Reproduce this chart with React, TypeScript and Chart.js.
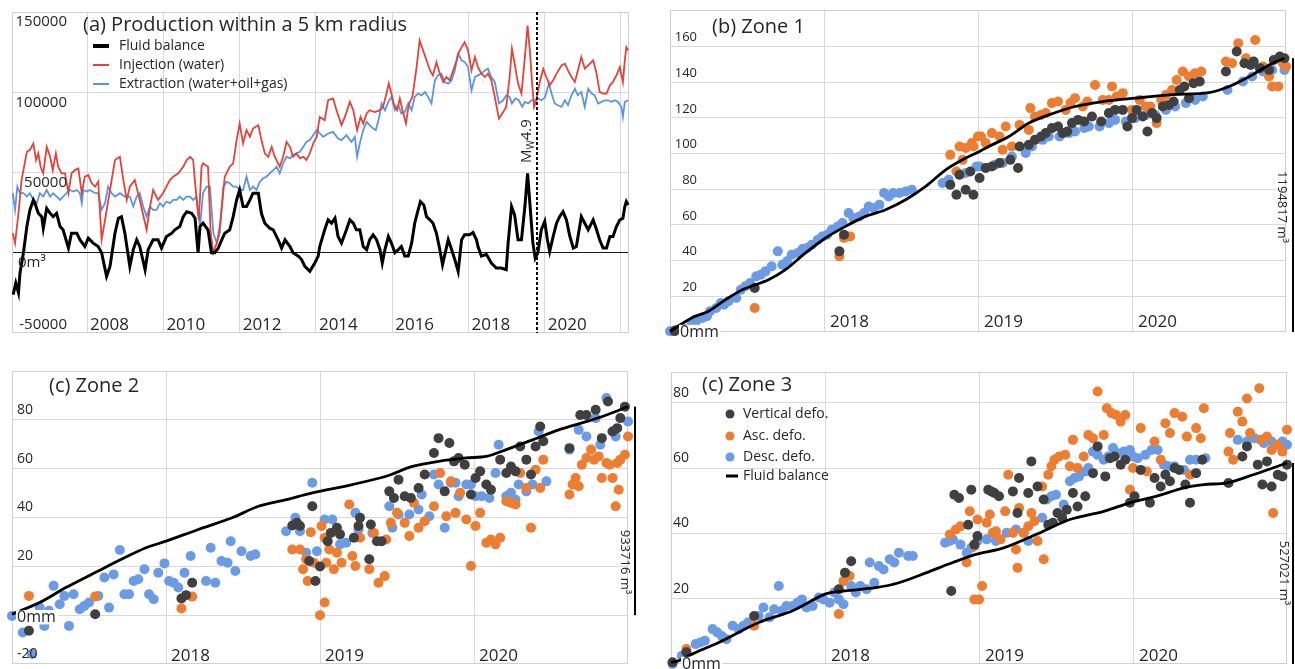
import React, { useEffect, useRef } from "react";
import { Chart, registerables } from "chart.js";

Chart.register(...registerables);

type Pt = [number, number];

const FONT = '"Open Sans", "Noto Sans", "DejaVu Sans", sans-serif';
const TEXT = "#262626";
const GRID = "#d9d9d9";
const FRAME = "#cfcfcf";
const C_FLUID = "#000000";
const C_INJ = "#e2433b";
const C_EXT = "#5b95e0";
const C_VERT = "#404040";
const C_ASC = "#ed7d31";
const C_DESC = "#6c9be6";

// ---------------- Panel (a) ----------------
const aTitle = "(a) Production within a 5 km radius";
const aLegend = ["Fluid balance", "Injection (water)", "Extraction (water+oil+gas)"];
const aXTicks = [2008, 2010, 2012, 2014, 2016, 2018, 2020, 2022];
const aXLabels = ["2008", "2010", "2012", "2014", "2016", "2018", "2020"];
const aYTicks = [150000, 100000, 50000, 0, -50000];
const aYLabels = ["150000", "100000", "50000", "0m³", "-50000"];
const aQuakeYear = 2019.79;

const aFluid: Pt[] = [
  [2006.06, -26100], [2006.13, -18800], [2006.2, -25000], [2006.24, -12600], [2006.33, 0], [2006.42, 16300],
  [2006.5, 26700], [2006.59, 32900], [2006.63, 30900], [2006.72, 24600], [2006.81, 22500], [2006.85, 15300],
  [2006.94, 27700], [2007.03, 24600], [2007.11, 22500], [2007.2, 24600], [2007.29, 16300], [2007.37, 14300],
  [2007.51, 2900], [2007.59, 12200], [2007.73, 12200], [2007.81, 8100], [2007.94, 3900], [2008.03, 9100],
  [2008.16, 6000], [2008.29, 3900], [2008.38, 0], [2008.51, -14700], [2008.6, -8500], [2008.73, 12200],
  [2008.82, 21500], [2008.9, 22500], [2008.99, 12200], [2009.12, -8500], [2009.21, 1900], [2009.3, 8100],
  [2009.38, 3900], [2009.52, -10600], [2009.6, 1900], [2009.73, 8100], [2009.86, 8100], [2009.95, 2900],
  [2010.08, 10100], [2010.22, 12200], [2010.3, 14300], [2010.43, 16300], [2010.52, 22500], [2010.61, 25600],
  [2010.74, 24600], [2010.83, 21500], [2010.91, 0], [2010.96, 16300], [2011.04, 18400], [2011.17, 14300],
  [2011.26, 0], [2011.35, 0], [2011.44, 2900], [2011.53, 8100], [2011.61, 12200], [2011.74, 14300],
  [2011.83, 22500], [2011.92, 32900], [2012.0, 39100], [2012.09, 28800], [2012.18, 28800], [2012.27, 32900],
  [2012.35, 37100], [2012.49, 37100], [2012.57, 24600], [2012.66, 18400], [2012.79, 15300], [2012.88, 14300],
  [2013.01, 8100], [2013.1, 2900], [2013.19, 8100], [2013.32, 3900], [2013.4, 0], [2013.54, -2100],
  [2013.62, -4100], [2013.71, -8500], [2013.84, -11600], [2013.97, -6400], [2014.06, -2100], [2014.1, 3900],
  [2014.23, 14300], [2014.32, 20500], [2014.41, 18400], [2014.5, 21500], [2014.58, 10100], [2014.67, 6000],
  [2014.8, 14300], [2014.89, 20500], [2014.98, 18400], [2015.06, 14300], [2015.15, 14300], [2015.24, 3900],
  [2015.33, 1900], [2015.41, 8100], [2015.5, 11200], [2015.59, 8100], [2015.68, 1900], [2015.74, -6400],
  [2015.81, 1900], [2015.9, 10100], [2015.98, 6000], [2016.07, 0], [2016.16, 1900], [2016.24, 3900],
  [2016.33, -2100], [2016.42, -2100], [2016.51, 6000], [2016.59, 18400], [2016.68, 26700], [2016.74, 31900],
  [2016.83, 29800], [2016.9, 22500], [2016.99, 20500], [2017.07, 18400], [2017.16, 12200], [2017.25, 1900],
  [2017.32, -7500], [2017.41, 1900], [2017.47, 8100], [2017.56, 1900], [2017.64, -4100], [2017.73, -11600],
  [2017.82, 8100], [2017.9, 11200], [2018.03, 11200], [2018.12, 12600], [2018.21, 8100], [2018.25, 3900],
  [2018.34, -2100], [2018.47, -1000], [2018.6, -6400], [2018.73, -9500], [2018.86, -9500], [2018.99, -10600],
  [2019.04, 6000], [2019.13, 28800], [2019.21, 23600], [2019.3, 8100], [2019.39, 8100], [2019.48, 28800],
  [2019.55, 49500], [2019.61, 30900], [2019.69, 6000], [2019.75, -3300], [2019.82, 0], [2019.91, 14300],
  [2020.0, 19500], [2020.07, 8100], [2020.13, 800], [2020.22, 10100], [2020.31, 18400], [2020.39, 22500],
  [2020.48, 25600], [2020.57, 20500], [2020.66, 10100], [2020.75, 2900], [2020.83, 3900], [2020.96, 22500],
  [2021.05, 18400], [2021.14, 14300], [2021.27, 20500], [2021.36, 14300], [2021.44, 8100], [2021.53, 2900],
  [2021.62, 2900], [2021.71, 10100], [2021.79, 10100], [2021.88, 16300], [2021.97, 20500], [2022.05, 21500],
  [2022.1, 28800], [2022.14, 31900], [2022.19, 29800],
];

const aInjection: Pt[] = [
  [2006.05, 12200], [2006.11, 6000], [2006.2, 24600], [2006.28, 45300], [2006.42, 62900], [2006.5, 64000],
  [2006.59, 68100], [2006.66, 57800], [2006.72, 61900], [2006.78, 53600], [2006.85, 49500], [2006.94, 66000],
  [2007.03, 59800], [2007.1, 51500], [2007.18, 61900], [2007.24, 53600], [2007.33, 49500], [2007.42, 49500],
  [2007.51, 37100], [2007.59, 49500], [2007.68, 51500], [2007.77, 52600], [2007.86, 37100], [2007.94, 47400],
  [2008.03, 48400], [2008.12, 43300], [2008.21, 41200], [2008.29, 44300], [2008.38, 8100], [2008.47, 20500],
  [2008.6, 39100], [2008.73, 57800], [2008.86, 59800], [2008.95, 45300], [2009.04, 32900], [2009.12, 41200],
  [2009.25, 45300], [2009.38, 32900], [2009.56, 14300], [2009.65, 28800], [2009.73, 39100], [2009.86, 32900],
  [2009.99, 37100], [2010.08, 41200], [2010.17, 45300], [2010.26, 47400], [2010.39, 49500], [2010.52, 53600],
  [2010.61, 57800], [2010.7, 59800], [2010.78, 57800], [2010.87, 32900], [2010.93, 20500], [2011.0, 53600],
  [2011.04, 55700], [2011.17, 53600], [2011.24, 12200], [2011.31, 0], [2011.4, 6000], [2011.48, 16300],
  [2011.55, 32900], [2011.61, 47400], [2011.74, 53600], [2011.83, 55700], [2011.92, 70200], [2012.0, 80500],
  [2012.09, 68100], [2012.18, 76400], [2012.27, 72200], [2012.35, 77400], [2012.49, 79500], [2012.57, 70200],
  [2012.66, 61900], [2012.75, 59800], [2012.84, 66000], [2012.92, 59800], [2013.05, 53600], [2013.14, 59800],
  [2013.23, 69100], [2013.32, 66000], [2013.4, 59800], [2013.49, 61900], [2013.58, 58800], [2013.67, 59800],
  [2013.75, 57800], [2013.84, 61900], [2013.93, 68100], [2014.02, 72200], [2014.1, 84600], [2014.23, 82600],
  [2014.32, 95000], [2014.45, 96100], [2014.54, 88800], [2014.67, 79500], [2014.76, 84600], [2014.89, 94000],
  [2014.98, 88800], [2015.08, 76400], [2015.17, 84600], [2015.24, 80500], [2015.33, 86800], [2015.41, 88800],
  [2015.54, 87700], [2015.68, 88800], [2015.76, 90900], [2015.85, 99200], [2015.91, 105400], [2015.98, 99200],
  [2016.04, 93000], [2016.13, 88800], [2016.2, 96100], [2016.27, 88800], [2016.36, 80500], [2016.44, 93000],
  [2016.53, 97100], [2016.64, 115700], [2016.72, 132300], [2016.81, 126100], [2016.9, 119900], [2016.99, 113600],
  [2017.07, 110500], [2017.16, 118800], [2017.25, 111600], [2017.34, 106400], [2017.42, 109500], [2017.51, 107400],
  [2017.6, 113600], [2017.69, 119900], [2017.73, 124000], [2017.82, 128100], [2017.9, 131200], [2017.99, 126100],
  [2018.08, 113600], [2018.17, 121900], [2018.25, 115700], [2018.34, 111600], [2018.43, 109500], [2018.51, 111600],
  [2018.6, 107400], [2018.69, 97100], [2018.8, 83600], [2018.91, 87700], [2018.99, 90900], [2019.08, 109500],
  [2019.14, 127100], [2019.21, 117800], [2019.3, 105400], [2019.39, 99200], [2019.48, 121900], [2019.55, 141600],
  [2019.61, 126100], [2019.67, 105400], [2019.72, 90900], [2019.78, 95000], [2019.87, 106400], [2019.96, 114700],
  [2020.04, 109500], [2020.13, 104300], [2020.22, 107400], [2020.31, 111600], [2020.44, 116700], [2020.53, 117800],
  [2020.61, 113600], [2020.7, 109500], [2020.79, 106400], [2020.87, 113600], [2020.96, 121900], [2021.05, 114700],
  [2021.14, 116700], [2021.27, 119900], [2021.36, 111600], [2021.44, 100200], [2021.53, 99200], [2021.62, 99200],
  [2021.71, 104300], [2021.79, 106400], [2021.88, 110500], [2021.97, 115700], [2022.05, 106400], [2022.1, 119900],
  [2022.14, 128100], [2022.19, 126100],
];

const aExtraction: Pt[] = [
  [2006.05, 37100], [2006.11, 26700], [2006.17, 41200], [2006.24, 37100], [2006.33, 37100], [2006.42, 35000],
  [2006.5, 37100], [2006.59, 32900], [2006.68, 30900], [2006.76, 37100], [2006.85, 35000], [2006.94, 39100],
  [2007.03, 35000], [2007.11, 37100], [2007.2, 35000], [2007.29, 32900], [2007.37, 35000], [2007.46, 37100],
  [2007.55, 39100], [2007.64, 38100], [2007.73, 39100], [2007.81, 37100], [2007.86, 30900], [2007.9, 39100],
  [2007.99, 38100], [2008.07, 39100], [2008.21, 37100], [2008.29, 37100], [2008.38, 26700], [2008.47, 30900],
  [2008.55, 41200], [2008.64, 37100], [2008.73, 35000], [2008.86, 37100], [2008.99, 35000], [2009.12, 35000],
  [2009.21, 28800], [2009.3, 35000], [2009.38, 37100], [2009.47, 28800], [2009.56, 22500], [2009.65, 28800],
  [2009.73, 26700], [2009.82, 26700], [2009.91, 30900], [2009.99, 28800], [2010.08, 31900], [2010.17, 30900],
  [2010.26, 32900], [2010.35, 32900], [2010.43, 35000], [2010.52, 32900], [2010.61, 35000], [2010.7, 35000],
  [2010.78, 32900], [2010.87, 35000], [2010.96, 16300], [2011.04, 37100], [2011.13, 41200], [2011.22, 41200],
  [2011.31, 12200], [2011.4, 6000], [2011.48, 12200], [2011.57, 41200], [2011.66, 44300], [2011.74, 43300],
  [2011.83, 41200], [2011.92, 41200], [2012.0, 39100], [2012.09, 39100], [2012.18, 47400], [2012.27, 39100],
  [2012.35, 41200], [2012.44, 39100], [2012.53, 44300], [2012.62, 46400], [2012.7, 47400], [2012.79, 49500],
  [2012.88, 51500], [2012.97, 53600], [2013.05, 49500], [2013.14, 55700], [2013.23, 59800], [2013.32, 58800],
  [2013.4, 60900], [2013.49, 61900], [2013.58, 62900], [2013.67, 66000], [2013.75, 69100], [2013.84, 70200],
  [2013.93, 73300], [2014.02, 76400], [2014.19, 72200], [2014.32, 74300], [2014.45, 75300], [2014.58, 71200],
  [2014.67, 70200], [2014.8, 73300], [2014.93, 69100], [2015.02, 72200], [2015.08, 59800], [2015.15, 68100],
  [2015.24, 76400], [2015.33, 81500], [2015.41, 79500], [2015.5, 77400], [2015.57, 76400], [2015.66, 84600],
  [2015.72, 93000], [2015.81, 88800], [2015.9, 94000], [2015.98, 97100], [2016.07, 88800], [2016.16, 91900],
  [2016.24, 86800], [2016.33, 87700], [2016.42, 93000], [2016.51, 88800], [2016.59, 97100], [2016.68, 99200],
  [2016.77, 98100], [2016.86, 100200], [2016.94, 97100], [2017.03, 93000], [2017.12, 107400], [2017.2, 110500],
  [2017.29, 111600], [2017.38, 106400], [2017.47, 105400], [2017.56, 107400], [2017.64, 113600], [2017.73, 124000],
  [2017.82, 119900], [2017.9, 118800], [2017.99, 115700], [2018.08, 101200], [2018.17, 109500], [2018.25, 110500],
  [2018.34, 111600], [2018.43, 113600], [2018.51, 114700], [2018.6, 109500], [2018.69, 106400], [2018.8, 93000],
  [2018.91, 95000], [2018.99, 98100], [2019.08, 97100], [2019.14, 93000], [2019.23, 96100], [2019.32, 95000],
  [2019.41, 90900], [2019.48, 94000], [2019.57, 93000], [2019.65, 95000], [2019.74, 95000], [2019.83, 96100],
  [2019.91, 95000], [2020.0, 96600], [2020.11, 105400], [2020.18, 99200], [2020.26, 93000], [2020.35, 91900],
  [2020.44, 90900], [2020.53, 95000], [2020.61, 91900], [2020.7, 98100], [2020.79, 102200], [2020.87, 98100],
  [2020.96, 100200], [2021.05, 90900], [2021.14, 102200], [2021.23, 99200], [2021.31, 98100], [2021.4, 93000],
  [2021.49, 94000], [2021.58, 95000], [2021.66, 95000], [2021.75, 94000], [2021.84, 95000], [2021.92, 94000],
  [2022.01, 90900], [2022.05, 84600], [2022.1, 94000], [2022.19, 95000],
];

// ---------------- Zone panels (shared) ----------------
const zoneXTicks = [2018, 2019, 2020];
const zoneXLabels = ["2018", "2019", "2020"];
const zoneLegend = ["Vertical defo.", "Asc. defo.", "Desc. defo.", "Fluid balance"];

// ---------------- Panel (b) Zone 1 ----------------
const bTitle = "(b) Zone 1";
const bYTicks = [20, 40, 60, 80, 100, 120, 140, 160];
const bYLabels = ["20", "40", "60", "80", "100", "120", "140", "160"];
const bVolume = "1194817 m³";

const bDesc: Pt[] = [
  [2017.0, 0.4], [2017.04, 1.3], [2017.08, 2.3], [2017.14, 4.1], [2017.17, 6.0], [2017.21, 7.9], [2017.24, 8.8],
  [2017.26, 11.6], [2017.3, 13.5], [2017.33, 16.3], [2017.35, 15.3], [2017.38, 17.2], [2017.43, 19.1],
  [2017.46, 23.7], [2017.49, 25.6], [2017.52, 27.5], [2017.56, 31.2], [2017.59, 32.1], [2017.62, 34.0],
  [2017.66, 36.8], [2017.7, 45.2], [2017.73, 37.7], [2017.76, 39.6], [2017.79, 43.3], [2017.83, 44.3],
  [2017.86, 46.5], [2017.89, 47.1], [2017.92, 48.9], [2017.96, 51.7], [2017.99, 53.6], [2018.02, 54.5],
  [2018.05, 57.3], [2018.09, 59.2], [2018.12, 61.1], [2018.16, 66.7], [2018.19, 63.9], [2018.23, 64.8],
  [2018.26, 66.7], [2018.29, 70.4], [2018.32, 69.5], [2018.36, 71.3], [2018.39, 77.9], [2018.42, 76.0],
  [2018.45, 77.9], [2018.49, 77.9], [2018.53, 78.8], [2018.57, 79.7], [2018.77, 83.5], [2018.81, 85.3],
  [2018.88, 88.1], [2018.92, 89.1], [2018.99, 92.8], [2019.01, 92.8], [2019.05, 91.9], [2019.11, 93.7],
  [2019.16, 94.7], [2019.22, 98.4], [2019.31, 100.3], [2019.35, 104.0], [2019.42, 107.7], [2019.46, 109.6],
  [2019.53, 109.6], [2019.59, 111.5], [2019.63, 112.4], [2019.69, 114.3], [2019.72, 115.2], [2019.79, 115.2],
  [2019.85, 117.1], [2019.89, 118.9], [2019.96, 118.0], [2020.02, 119.9], [2020.09, 121.7], [2020.15, 121.7],
  [2020.22, 124.5], [2020.28, 126.4], [2020.35, 128.3], [2020.41, 130.1], [2020.46, 132.0], [2020.62, 135.7],
  [2020.72, 140.4], [2020.78, 143.2], [2020.85, 146.0], [2020.91, 146.9], [2020.99, 146.9],
];

const bAsc: Pt[] = [
  [2017.55, 13.5], [2018.1, 42.4], [2018.13, 52.7], [2018.17, 53.6], [2018.82, 99.3], [2018.86, 90.0],
  [2018.88, 104.0], [2018.9, 96.5], [2018.92, 103.1], [2018.96, 105.9], [2018.97, 104.0], [2019.0, 109.6],
  [2019.02, 109.6], [2019.05, 105.9], [2019.09, 111.5], [2019.14, 109.6], [2019.16, 102.1], [2019.18, 115.2],
  [2019.22, 104.0], [2019.27, 116.1], [2019.33, 113.3], [2019.34, 125.5], [2019.37, 120.8], [2019.41, 121.7],
  [2019.44, 122.7], [2019.48, 128.3], [2019.52, 129.2], [2019.57, 124.5], [2019.6, 128.3], [2019.63, 131.1],
  [2019.68, 126.4], [2019.71, 129.2], [2019.76, 138.5], [2019.81, 130.1], [2019.85, 130.1], [2019.87, 137.6],
  [2019.9, 132.0], [2019.94, 133.9], [2020.0, 124.5], [2020.05, 130.1], [2020.09, 126.4], [2020.12, 126.4],
  [2020.16, 117.1], [2020.19, 130.1], [2020.22, 132.9], [2020.26, 135.7], [2020.29, 141.3], [2020.33, 146.0],
  [2020.37, 143.2], [2020.41, 145.1], [2020.45, 146.0], [2020.61, 151.6], [2020.65, 150.7], [2020.69, 161.9],
  [2020.74, 153.5], [2020.8, 163.7], [2020.85, 148.8], [2020.89, 143.2], [2020.91, 137.6], [2020.95, 137.6],
  [2020.98, 150.7], [2021.0, 148.8],
];

const bVert: Pt[] = [
  [2017.03, 0.5], [2017.55, 24.7], [2018.1, 45.2], [2018.13, 54.5], [2018.82, 82.5], [2018.86, 76.9],
  [2018.88, 88.1], [2018.92, 79.7], [2018.95, 90.0], [2018.97, 76.9], [2019.01, 86.3], [2019.05, 91.9],
  [2019.09, 92.8], [2019.14, 94.7], [2019.21, 96.5], [2019.26, 91.9], [2019.27, 104.0], [2019.33, 104.9],
  [2019.37, 107.7], [2019.41, 109.6], [2019.44, 111.5], [2019.48, 114.3], [2019.52, 115.2], [2019.55, 111.5],
  [2019.58, 112.4], [2019.61, 117.1], [2019.65, 118.9], [2019.69, 118.0], [2019.74, 120.8], [2019.8, 118.0],
  [2019.85, 122.7], [2019.89, 124.5], [2019.94, 124.5], [2019.97, 115.2], [2020.0, 119.9], [2020.03, 124.5],
  [2020.07, 120.8], [2020.1, 112.4], [2020.13, 122.7], [2020.16, 119.9], [2020.2, 126.4], [2020.24, 127.3],
  [2020.27, 129.2], [2020.31, 135.7], [2020.34, 137.6], [2020.37, 131.1], [2020.4, 139.5], [2020.44, 140.4],
  [2020.61, 146.0], [2020.68, 157.2], [2020.73, 150.7], [2020.77, 149.7], [2020.79, 151.6], [2020.83, 147.9],
  [2020.89, 146.9], [2020.92, 152.5], [2020.96, 154.4], [2020.99, 153.5],
];

const bFluid: Pt[] = [
  [2017.0, 0.4], [2017.14, 7.9], [2017.25, 11.6], [2017.36, 18.1], [2017.47, 23.7], [2017.64, 29.3],
  [2017.75, 34.9], [2017.88, 44.3], [2018.01, 52.7], [2018.14, 59.2], [2018.27, 64.8], [2018.4, 68.5],
  [2018.53, 74.1], [2018.66, 81.6], [2018.79, 90.9], [2018.92, 97.5], [2019.01, 101.2], [2019.07, 104.0],
  [2019.2, 109.6], [2019.33, 117.1], [2019.46, 121.7], [2019.63, 126.4], [2019.81, 129.2], [2020.02, 131.1],
  [2020.24, 132.9], [2020.5, 134.2], [2020.63, 137.6], [2020.78, 144.1], [2020.89, 149.7], [2020.99, 153.5],
];

// ---------------- Panel (c) Zone 2 ----------------
const cTitle = "(c) Zone 2";
const cYTicks = [80, 60, 40, 20];
const cYLabels = ["80", "60", "40", "20"];
const cBottomLabel = "-20";
const cVolume = "933716 m³";

const cDesc: Pt[] = [
  [2017.0, -0.3], [2017.07, -7.1], [2017.13, -15.9], [2017.18, 3.1], [2017.21, -4.4], [2017.24, 1.8],
  [2017.27, 12.0], [2017.31, 4.5], [2017.34, 7.9], [2017.37, -4.4], [2017.4, 8.6], [2017.44, 2.4],
  [2017.47, 3.8], [2017.5, 5.2], [2017.56, 7.9], [2017.6, 15.4], [2017.63, 3.1], [2017.66, 16.7],
  [2017.7, 26.7], [2017.73, 8.6], [2017.76, 8.6], [2017.79, 14.0], [2017.82, 14.7], [2017.86, 18.8],
  [2017.89, 8.6], [2017.92, 6.5], [2017.95, 17.4], [2017.99, 21.2], [2018.02, 14.0], [2018.05, 13.3],
  [2018.08, 11.3], [2018.12, 17.4], [2018.16, 24.2], [2018.26, 14.0], [2018.29, 27.6], [2018.32, 13.3],
  [2018.36, 22.2], [2018.4, 21.5], [2018.42, 30.3], [2018.45, 18.1], [2018.49, 26.2], [2018.55, 24.2],
  [2018.58, 24.9], [2018.78, 34.4], [2018.84, 39.9], [2018.87, 34.4], [2018.91, 25.6], [2018.95, 54.2],
  [2018.98, 26.2], [2019.03, 39.2], [2019.08, 39.2], [2019.13, 29.0], [2019.17, 29.7], [2019.23, 41.9],
  [2019.25, 35.1], [2019.34, 33.7], [2019.45, 44.6], [2019.47, 35.8], [2019.51, 41.2], [2019.58, 41.2],
  [2019.64, 43.3], [2019.66, 49.4], [2019.71, 40.5], [2019.74, 57.6], [2019.77, 53.5], [2019.81, 35.8],
  [2019.85, 54.2], [2019.88, 54.2], [2019.9, 48.7], [2019.95, 53.5], [2019.98, 53.5], [2020.01, 48.7],
  [2020.05, 48.7], [2020.1, 48.0], [2020.14, 58.2], [2020.16, 69.8], [2020.21, 48.7], [2020.24, 50.1],
  [2020.27, 47.3], [2020.29, 53.5], [2020.34, 50.7], [2020.38, 53.5], [2020.42, 75.2], [2020.47, 54.8],
  [2020.62, 67.8], [2020.68, 75.9], [2020.73, 73.2], [2020.79, 80.7], [2020.82, 69.8], [2020.86, 88.9],
  [2020.9, 75.2], [2020.92, 73.2], [2021.0, 79.3],
];

const cAsc: Pt[] = [
  [2017.11, 7.9], [2017.54, 7.6], [2018.1, 2.7], [2018.17, 7.6], [2018.82, 26.9], [2018.87, 26.9],
  [2018.89, 18.8], [2018.91, 22.9], [2018.92, 14.0], [2018.94, 34.0], [2018.96, 21.5], [2019.0, 0],
  [2019.01, 36.5], [2019.03, 5.2], [2019.04, 21.5], [2019.03, 31.7], [2019.06, 26.9], [2019.09, 18.8],
  [2019.11, 25.6], [2019.14, 21.5], [2019.19, 45.3], [2019.21, 24.2], [2019.23, 20.1], [2019.26, 31.7],
  [2019.32, 18.8], [2019.35, 33.7], [2019.38, 13.3], [2019.42, 16.0], [2019.43, 31.0], [2019.46, 37.8],
  [2019.5, 41.9], [2019.55, 37.8], [2019.58, 32.4], [2019.61, 46.0], [2019.64, 35.8], [2019.68, 38.5],
  [2019.74, 44.6], [2019.78, 58.2], [2019.82, 40.5], [2019.85, 54.8], [2019.88, 41.9], [2019.91, 50.1],
  [2019.95, 39.2], [2019.98, 20.1], [2020.01, 36.5], [2020.04, 41.9], [2020.08, 29.7], [2020.11, 31.0],
  [2020.14, 29.0], [2020.17, 31.7], [2020.21, 46.7], [2020.24, 46.0], [2020.27, 45.3], [2020.3, 58.2],
  [2020.34, 52.1], [2020.37, 35.8], [2020.4, 59.6], [2020.43, 52.1], [2020.45, 63.7], [2020.62, 49.4],
  [2020.64, 53.5], [2020.66, 56.2], [2020.68, 52.8], [2020.7, 61.6], [2020.73, 64.4], [2020.76, 67.8],
  [2020.78, 63.7], [2020.81, 65.0], [2020.83, 56.2], [2020.86, 62.3], [2020.88, 61.6], [2020.9, 56.2],
  [2020.92, 44.6], [2020.93, 62.3], [2020.94, 51.4], [2020.95, 63.7], [2020.98, 65.7], [2021.0, 73.2],
];

const cVert: Pt[] = [
  [2017.11, -6.4], [2017.54, 0.4], [2018.1, 6.8], [2018.13, 8.2], [2018.17, 13.3], [2018.82, 36.7],
  [2018.85, 37.8], [2018.87, 36.5], [2018.93, 22.2], [2018.95, 44.6], [2018.97, 14.0], [2019.0, 19.9],
  [2019.05, 30.3], [2019.07, 33.7], [2019.11, 35.8], [2019.13, 33.1], [2019.22, 31.7], [2019.25, 36.5],
  [2019.26, 39.9], [2019.32, 22.9], [2019.33, 37.1], [2019.37, 30.3], [2019.4, 30.3], [2019.45, 50.7],
  [2019.48, 48.0], [2019.51, 55.5], [2019.55, 48.7], [2019.59, 48.0], [2019.64, 52.1], [2019.68, 57.6],
  [2019.74, 66.4], [2019.77, 72.5], [2019.81, 50.7], [2019.84, 70.5], [2019.87, 63.0], [2019.9, 64.4],
  [2019.94, 61.6], [2019.98, 49.4], [2020.01, 56.2], [2020.04, 58.9], [2020.08, 53.5], [2020.11, 51.4],
  [2020.17, 63.7], [2020.21, 58.2], [2020.24, 60.9], [2020.27, 58.9], [2020.3, 69.1], [2020.34, 63.7],
  [2020.37, 57.6], [2020.4, 69.1], [2020.43, 77.3], [2020.45, 71.2], [2020.62, 68.4], [2020.69, 82.0],
  [2020.73, 82.0], [2020.79, 84.1], [2020.83, 72.5], [2020.87, 87.5], [2020.9, 75.2], [2020.93, 76.6],
  [2020.95, 80.7], [2020.98, 85.4],
];

const cFluid: Pt[] = [
  [2017.0, 0.4], [2017.18, 5.2], [2017.35, 11.3], [2017.56, 18.1], [2017.71, 22.9], [2017.87, 27.6],
  [2018.0, 30.3], [2018.21, 35.1], [2018.43, 39.9], [2018.6, 44.6], [2018.78, 47.3], [2018.95, 50.1],
  [2019.21, 53.5], [2019.43, 56.9], [2019.6, 60.9], [2019.77, 63.0], [2019.95, 64.4], [2020.08, 65.0],
  [2020.21, 67.8], [2020.38, 71.8], [2020.55, 75.9], [2020.73, 79.3], [2020.86, 82.0], [2021.0, 85.4],
];

// ---------------- Panel (d) Zone 3 ----------------
const dTitle = "(c) Zone 3";
const dYTicks = [80, 60, 40, 20];
const dYLabels = ["80", "60", "40", "20"];
const dVolume = "527021 m³";

const dDesc: Pt[] = [
  [2017.01, 0], [2017.07, 2.5], [2017.16, 6.1], [2017.19, 6.6], [2017.22, 7.1], [2017.27, 10.7], [2017.3, 9.7],
  [2017.33, 8.6], [2017.36, 7.6], [2017.4, 11.7], [2017.44, 10.7], [2017.47, 11.7], [2017.5, 12.7],
  [2017.57, 14.7], [2017.6, 17.3], [2017.64, 14.3], [2017.67, 16.8], [2017.7, 23.9], [2017.72, 16.3],
  [2017.75, 17.8], [2017.79, 17.8], [2017.82, 18.8], [2017.85, 19.8], [2017.88, 17.3], [2017.92, 17.8],
  [2017.96, 20.4], [2017.99, 19.8], [2018.03, 18.8], [2018.06, 21.9], [2018.09, 19.8], [2018.12, 18.3],
  [2018.17, 23.9], [2018.2, 21.9], [2018.23, 23.9], [2018.27, 22.9], [2018.29, 31.1], [2018.32, 24.9],
  [2018.35, 30.0], [2018.38, 29.0], [2018.42, 32.1], [2018.45, 31.1], [2018.48, 34.1], [2018.54, 33.1],
  [2018.57, 33.1], [2018.78, 37.2], [2018.81, 37.7], [2018.83, 38.2], [2018.88, 36.6], [2018.92, 34.1],
  [2018.95, 35.6], [2018.99, 37.7], [2019.05, 38.2], [2019.11, 37.7], [2019.18, 40.2], [2019.24, 41.2],
  [2019.29, 40.2], [2019.32, 37.7], [2019.41, 44.8], [2019.44, 50.4], [2019.47, 51.4], [2019.5, 51.9],
  [2019.55, 48.9], [2019.59, 56.0], [2019.62, 57.0], [2019.65, 57.5], [2019.69, 59.0], [2019.71, 60.1],
  [2019.74, 65.1], [2019.77, 64.1], [2019.81, 62.6], [2019.84, 63.6], [2019.87, 66.2], [2019.9, 64.6],
  [2019.94, 65.1], [2019.98, 65.6], [2020.0, 63.6], [2020.03, 63.1], [2020.08, 64.1], [2020.12, 65.6],
  [2020.16, 65.6], [2020.2, 61.1], [2020.23, 60.6], [2020.27, 60.6], [2020.33, 59.5], [2020.37, 62.6],
  [2020.41, 62.6], [2020.47, 63.1], [2020.68, 68.7], [2020.74, 68.2], [2020.79, 69.2], [2020.85, 67.7],
  [2020.9, 68.2], [2020.97, 68.2], [2021.0, 67.2],
];

const dAsc: Pt[] = [
  [2017.1, 4.6], [2017.54, 11.7], [2018.09, 15.3], [2018.12, 25.4], [2018.16, 27.0], [2018.81, 39.7],
  [2018.85, 41.2], [2018.88, 42.2], [2018.92, 31.1], [2018.94, 46.8], [2018.97, 36.1], [2018.97, 19.8],
  [2018.99, 44.3], [2019.0, 19.8], [2019.02, 23.9], [2019.05, 43.3], [2019.07, 45.8], [2019.09, 40.2],
  [2019.11, 40.7], [2019.14, 38.2], [2019.17, 46.8], [2019.19, 58.0], [2019.22, 40.2], [2019.24, 35.1],
  [2019.25, 29.5], [2019.26, 47.8], [2019.29, 40.2], [2019.32, 42.2], [2019.34, 46.3], [2019.36, 43.8],
  [2019.38, 37.7], [2019.41, 54.4], [2019.42, 32.1], [2019.45, 58.0], [2019.47, 60.6], [2019.49, 62.6],
  [2019.52, 63.6], [2019.56, 64.1], [2019.59, 60.6], [2019.61, 68.7], [2019.64, 60.1], [2019.68, 63.6],
  [2019.71, 70.2], [2019.74, 69.2], [2019.77, 83.5], [2019.81, 70.2], [2019.83, 78.4], [2019.86, 76.9],
  [2019.89, 76.3], [2019.92, 74.3], [2019.95, 76.3], [2019.98, 53.4], [2020.0, 60.1], [2020.05, 72.3],
  [2020.09, 59.0], [2020.14, 68.2], [2020.18, 62.6], [2020.21, 73.8], [2020.24, 70.8], [2020.27, 76.9],
  [2020.32, 75.8], [2020.35, 69.7], [2020.37, 58.0], [2020.41, 72.3], [2020.44, 69.2], [2020.46, 78.4],
  [2020.62, 65.1], [2020.63, 70.8], [2020.65, 62.6], [2020.68, 77.3], [2020.71, 74.3], [2020.74, 81.4],
  [2020.76, 70.8], [2020.82, 84.5], [2020.83, 68.7], [2020.87, 69.7], [2020.9, 65.6], [2020.91, 46.3],
  [2020.94, 67.2], [2020.97, 65.1], [2021.0, 71.8],
];

const dVert: Pt[] = [
  [2017.01, 0.5], [2017.1, 3.6], [2017.54, 14.7], [2018.09, 22.9], [2018.13, 28.0], [2018.17, 31.5],
  [2018.82, 22.4], [2018.84, 51.9], [2018.87, 50.9], [2018.93, 42.7], [2018.95, 53.4], [2018.97, 36.6],
  [2018.99, 39.2], [2019.06, 53.4], [2019.08, 52.9], [2019.1, 52.4], [2019.13, 51.4], [2019.22, 52.9],
  [2019.25, 46.3], [2019.26, 57.0], [2019.32, 52.4], [2019.34, 62.1], [2019.38, 54.4], [2019.42, 50.4],
  [2019.45, 42.7], [2019.48, 43.3], [2019.51, 46.3], [2019.54, 44.8], [2019.57, 47.3], [2019.61, 52.4],
  [2019.64, 48.3], [2019.69, 51.4], [2019.74, 58.5], [2019.77, 66.7], [2019.82, 57.5], [2019.85, 63.1],
  [2019.88, 63.6], [2019.92, 61.1], [2019.95, 62.6], [2019.98, 49.4], [2020.01, 51.4], [2020.05, 59.5],
  [2020.11, 49.4], [2020.14, 57.0], [2020.18, 54.4], [2020.21, 58.0], [2020.24, 56.0], [2020.27, 60.1],
  [2020.3, 59.5], [2020.34, 55.0], [2020.37, 49.4], [2020.41, 58.5], [2020.45, 62.6], [2020.62, 55.5],
  [2020.71, 63.6], [2020.74, 66.7], [2020.81, 61.1], [2020.84, 55.0], [2020.87, 62.1], [2020.9, 54.4],
  [2020.94, 58.0], [2020.97, 57.5], [2021.0, 61.1],
];

const dFluid: Pt[] = [
  [2017.0, 0.5], [2017.05, 1.0], [2017.14, 3.1], [2017.31, 6.6], [2017.57, 12.7], [2017.79, 16.3],
  [2018.0, 21.4], [2018.13, 22.4], [2018.33, 23.4], [2018.48, 24.9], [2018.66, 28.0], [2018.83, 31.1],
  [2018.98, 33.6], [2019.16, 35.6], [2019.37, 39.7], [2019.59, 44.3], [2019.81, 46.8], [2019.98, 49.4],
  [2020.15, 51.4], [2020.33, 54.0], [2020.46, 55.0], [2020.61, 55.5], [2020.78, 58.0], [2021.0, 61.6],
];

// ---------------- helpers ----------------
function drawText(ctx: any, s: string, x: number, y: number, size: number, align: CanvasTextAlign = "left", color = TEXT) {
  ctx.save();
  ctx.font = `${size}px ${FONT}`;
  ctx.fillStyle = color;
  ctx.textAlign = align;
  ctx.textBaseline = "middle";
  ctx.fillText(s, x, y);
  ctx.restore();
}

function drawRotated(ctx: any, s: string, cx: number, cy: number, size: number, angle: number) {
  ctx.save();
  ctx.translate(cx, cy);
  ctx.rotate(angle);
  ctx.font = `${size}px ${FONT}`;
  ctx.fillStyle = TEXT;
  ctx.textAlign = "center";
  ctx.textBaseline = "middle";
  ctx.fillText(s, 0, 0);
  ctx.restore();
}

function zeroLabel(ctx: any, s: string, x: number, cy: number, size: number) {
  ctx.save();
  ctx.font = `${size}px ${FONT}`;
  const w = ctx.measureText(s).width;
  ctx.fillStyle = "#ffffff";
  ctx.fillRect(x - 1, cy - size * 0.45, w + 3, size * 0.9);
  ctx.restore();
  drawText(ctx, s, x, cy, size);
}

function vbar(ctx: any, x: number, y1: number, y2: number) {
  ctx.save();
  ctx.fillStyle = "#000";
  ctx.fillRect(x - 1, y1, 2, y2 - y1);
  ctx.restore();
}

function drawFrame(chart: any) {
  const { ctx, chartArea: ca } = chart;
  ctx.save();
  ctx.strokeStyle = FRAME;
  ctx.lineWidth = 1;
  ctx.strokeRect(ca.left + 0.5, ca.top + 0.5, ca.right - ca.left - 1, ca.bottom - ca.top - 1);
  ctx.restore();
}

function axes(xMin: number, xMax: number, xGrid: number[], yMin: number, yMax: number, yGrid: number[], darkZero = false) {
  const setTicks = (vals: number[]) => (scale: any) => {
    scale.ticks = vals.map((v) => ({ value: v }));
  };
  return {
    x: {
      type: "linear", min: xMin, max: xMax,
      ticks: { display: false },
      grid: { color: GRID, lineWidth: 1, drawTicks: false },
      border: { display: false },
      afterBuildTicks: setTicks(xGrid),
    },
    y: {
      type: "linear", min: yMin, max: yMax,
      ticks: { display: false },
      grid: {
        color: darkZero ? (c: any) => (c.tick && c.tick.value === 0 ? "#1a1a1a" : GRID) : GRID,
        lineWidth: 1, drawTicks: false,
      },
      border: { display: false },
      afterBuildTicks: setTicks(yGrid),
    },
  };
}

function baseOptions(padding: any, scales: any) {
  return {
    responsive: false,
    maintainAspectRatio: false,
    animation: false,
    devicePixelRatio: 1,
    events: [],
    layout: { padding },
    plugins: { legend: { display: false }, tooltip: { enabled: false }, title: { display: false } },
    scales,
  };
}

const lineSet = (data: Pt[], color: string, width: number, order: number, tension = 0) => ({
  data, showLine: true, borderColor: color, backgroundColor: color, borderWidth: width,
  pointRadius: 0, pointHoverRadius: 0, tension, order, clip: false,
});

const dotSet = (data: Pt[], color: string, order: number) => ({
  data, showLine: false, backgroundColor: color, borderColor: color, pointBorderWidth: 0,
  pointRadius: 5, pointHoverRadius: 5, order, clip: false,
});

// ---------------- chart configs ----------------
function configA() {
  return {
    type: "scatter",
    data: {
      datasets: [
        lineSet(aFluid, C_FLUID, 3, 0),
        lineSet(aInjection, C_INJ, 1.8, 1),
        lineSet(aExtraction, C_EXT, 1.8, 2),
      ],
    },
    options: baseOptions({ left: 12, top: 12, right: 11, bottom: 7 },
      axes(2006.03, 2022.21, aXTicks, -50000, 150000, [0, 50000, 100000], true)),
    plugins: [{
      id: "decorA",
      beforeDatasetsDraw: drawFrame,
      afterDraw(chart: any) {
        const { ctx, chartArea: ca } = chart;
        const x = chart.scales.x, y = chart.scales.y;
        aYTicks.forEach((v, i) => {
          const py = y.getPixelForValue(v);
          if (v === 0) drawText(ctx, aYLabels[i], ca.left + 6, py + 10, 15);
          else drawText(ctx, aYLabels[i], ca.left + 55, Math.min(py + 10, ca.bottom - 8), 15, "right");
        });
        aXLabels.forEach((s, i) => drawText(ctx, s, x.getPixelForValue(aXTicks[i]) + 3, ca.bottom - 8, 17));
        drawText(ctx, aTitle, ca.left + 71, ca.top + 13, 20);
        const cols = [C_FLUID, C_INJ, C_EXT];
        const widths = [4, 2, 2];
        aLegend.forEach((s, i) => {
          const ly = ca.top + 34 + i * 19;
          ctx.save();
          ctx.strokeStyle = cols[i];
          ctx.lineWidth = widths[i];
          ctx.beginPath();
          ctx.moveTo(ca.left + 81, ly);
          ctx.lineTo(ca.left + 97, ly);
          ctx.stroke();
          ctx.restore();
          drawText(ctx, s, ca.left + 107, ly, 14);
        });
        const qx = Math.round(x.getPixelForValue(aQuakeYear));
        ctx.save();
        ctx.setLineDash([3, 2]);
        ctx.lineWidth = 2;
        ctx.strokeStyle = "#000";
        ctx.beginPath();
        ctx.moveTo(qx, ca.top);
        ctx.lineTo(qx, ca.bottom);
        ctx.stroke();
        ctx.restore();
        ctx.save();
        ctx.translate(qx - 10, ca.top + 151);
        ctx.rotate(-Math.PI / 2);
        ctx.fillStyle = TEXT;
        ctx.textBaseline = "middle";
        ctx.textAlign = "left";
        ctx.font = `15px ${FONT}`;
        ctx.fillText("M", 0, 0);
        let w = ctx.measureText("M").width;
        ctx.font = `10px ${FONT}`;
        ctx.fillText("W", w, 4);
        w += ctx.measureText("W").width;
        ctx.font = `15px ${FONT}`;
        ctx.fillText("4.9", w, 0);
        ctx.restore();
      },
    }],
  };
}

function zoneData(fluid: Pt[], vert: Pt[], asc: Pt[], desc: Pt[]) {
  return {
    datasets: [
      lineSet(fluid, C_FLUID, 2.8, 0, 0.3),
      dotSet(vert, C_VERT, 1),
      dotSet(asc, C_ASC, 2),
      dotSet(desc, C_DESC, 3),
    ],
  };
}

function configB() {
  return {
    type: "scatter",
    data: zoneData(bFluid, bVert, bAsc, bDesc),
    options: baseOptions({ left: 10, top: 10, right: 9, bottom: 8 },
      axes(2017.0, 2021.0, zoneXTicks, 0, 180.5, bYTicks)),
    plugins: [{
      id: "decorB",
      beforeDatasetsDraw: drawFrame,
      afterDraw(chart: any) {
        const { ctx, chartArea: ca } = chart;
        const x = chart.scales.x, y = chart.scales.y;
        bYTicks.forEach((v, i) => drawText(ctx, bYLabels[i], ca.left + 27, y.getPixelForValue(v) - 9, 13, "right"));
        zeroLabel(ctx, "0mm", ca.left + 10, y.getPixelForValue(0), 16);
        zoneXTicks.forEach((v, i) => drawText(ctx, zoneXLabels[i], x.getPixelForValue(v) + 6, ca.bottom - 10, 17));
        drawText(ctx, bTitle, ca.left + 42, ca.top + 17, 20);
        const last = bFluid[bFluid.length - 1];
        vbar(ctx, ca.right + 7, y.getPixelForValue(last[1]), y.getPixelForValue(0));
        drawRotated(ctx, bVolume, ca.right - 4, ca.top + 197, 13, Math.PI / 2);
      },
    }],
  };
}

function configC() {
  return {
    type: "scatter",
    data: zoneData(cFluid, cVert, cAsc, cDesc),
    options: baseOptions({ left: 12, top: 9, right: 17, bottom: 4 },
      axes(2017.0, 2021.0, zoneXTicks, -20, 100, [0, 20, 40, 60, 80])),
    plugins: [{
      id: "decorC",
      beforeDatasetsDraw: drawFrame,
      afterDraw(chart: any) {
        const { ctx, chartArea: ca } = chart;
        const x = chart.scales.x, y = chart.scales.y;
        cYTicks.forEach((v, i) => drawText(ctx, cYLabels[i], ca.left + 5, y.getPixelForValue(v) - 10, 14));
        drawText(ctx, cBottomLabel, ca.left + 5, ca.bottom - 10, 14);
        zeroLabel(ctx, "0mm", ca.left + 5, y.getPixelForValue(0) + 2, 16);
        zoneXTicks.forEach((v, i) => drawText(ctx, zoneXLabels[i], x.getPixelForValue(v) + 5, ca.bottom - 8, 17));
        drawText(ctx, cTitle, ca.left + 37, ca.top + 15, 20);
        const last = cFluid[cFluid.length - 1];
        vbar(ctx, ca.right + 7, y.getPixelForValue(last[1]), y.getPixelForValue(0));
        drawRotated(ctx, cVolume, ca.right - 3, ca.top + 191, 13, Math.PI / 2);
      },
    }],
  };
}

function configD() {
  return {
    type: "scatter",
    data: zoneData(dFluid, dVert, dAsc, dDesc),
    options: baseOptions({ left: 11, top: 10, right: 8, bottom: 4 },
      axes(2017.0, 2021.0, zoneXTicks, 0, 89.5, [20, 40, 60, 80])),
    plugins: [{
      id: "decorD",
      beforeDatasetsDraw: drawFrame,
      afterDraw(chart: any) {
        const { ctx, chartArea: ca } = chart;
        const x = chart.scales.x, y = chart.scales.y;
        dYTicks.forEach((v, i) => drawText(ctx, dYLabels[i], ca.left + 2, y.getPixelForValue(v) - 10, 14));
        zeroLabel(ctx, "0mm", ca.left + 11, y.getPixelForValue(0), 16);
        zoneXTicks.forEach((v, i) => drawText(ctx, zoneXLabels[i], x.getPixelForValue(v) + 6, ca.bottom - 8, 17));
        drawText(ctx, dTitle, ca.left + 31, ca.top + 13, 20);
        const cols = [C_VERT, C_ASC, C_DESC];
        zoneLegend.forEach((s, i) => {
          const ly = ca.top + [42, 64, 85, 104][i];
          ctx.save();
          if (i < 3) {
            ctx.fillStyle = cols[i];
            ctx.beginPath();
            ctx.arc(ca.left + 59, ly, 4.5, 0, Math.PI * 2);
            ctx.fill();
          } else {
            ctx.fillStyle = "#000";
            ctx.fillRect(ca.left + 55, ly - 1.5, 12, 3);
          }
          ctx.restore();
          drawText(ctx, s, ca.left + 72, ly, 14);
        });
        const last = dFluid[dFluid.length - 1];
        vbar(ctx, ca.right + 6, y.getPixelForValue(last[1]), y.getPixelForValue(0));
        drawRotated(ctx, dVolume, ca.right - 3, ca.top + 201, 13, Math.PI / 2);
      },
    }],
  };
}

function Panel({ left, top, width, height, make }: { left: number; top: number; width: number; height: number; make: () => any }) {
  const ref = useRef<HTMLCanvasElement | null>(null);
  useEffect(() => {
    if (!ref.current) return;
    const chart = new Chart(ref.current, make());
    let alive = true;
    const fonts: any = (document as any).fonts;
    if (fonts && fonts.ready) {
      fonts.ready.then(() => {
        if (alive) chart.update("none");
      });
    }
    return () => {
      alive = false;
      chart.destroy();
    };
  }, []);
  return (
    <canvas
      ref={ref}
      width={width}
      height={height}
      style={{ position: "absolute", left, top, width, height, display: "block" }}
    />
  );
}

export default function App() {
  return (
    <div style={{ position: "fixed", left: 0, top: 0, width: 1295, height: 669, background: "#ffffff", overflow: "hidden" }}>
      <Panel left={0} top={0} width={640} height={340} make={configA} />
      <Panel left={660} top={0} width={635} height={340} make={configB} />
      <Panel left={0} top={362} width={645} height={307} make={configC} />
      <Panel left={660} top={362} width={635} height={307} make={configD} />
    </div>
  );
}
